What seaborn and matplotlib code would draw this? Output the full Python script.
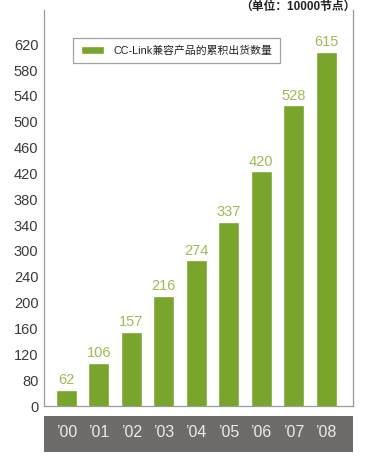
import matplotlib
matplotlib.use("Agg")
import matplotlib.pyplot as plt
import seaborn as sns
import numpy as np
import pandas as pd
from matplotlib.patches import Rectangle

years = ["’00", "’01", "’02", "’03", "’04", "’05", "’06", "’07", "’08"]
values = [62, 106, 157, 216, 274, 337, 420, 528, 615]
ytick_labels = ["0", "80", "120", "160", "200", "240", "300", "340", "380",
                "420", "460", "500", "540", "580", "620"]
series_name = "CC-Link兼容产品的累积出货数量"
unit_text = "（单位：10000节点）"

sns.set_theme(style="white")
plt.rcParams['font.family'] = ['Liberation Sans', 'Noto Sans CJK SC', 'DejaVu Sans']

bar_color = "#79a52c"
label_color = "#9dbb55"
band_color = "#6f6b68"

fig = plt.figure(figsize=(3.68, 4.59), dpi=100)
W, H = 368, 459
ax = fig.add_axes([44 / W, 1 - 406 / H, (353 - 44) / W, (406 - 10) / H])

df = pd.DataFrame({"year": years, "value": values})
sns.barplot(data=df, x="year", y="value", color=bar_color, saturation=1,
            width=0.65, ax=ax, label=series_name)

ymin, ymax = 35.8, 684
ax.set_ylim(ymin, ymax)
ax.set_xlim(-0.69, 8.83)
step = 42.3
ax.set_yticks([ymin + step * i for i in range(len(ytick_labels))])
ax.set_yticklabels(ytick_labels)
ax.tick_params(axis="y", length=0, pad=4, labelsize=10.5, labelcolor="#3a3a3a")
ax.tick_params(axis="x", length=0, pad=14, labelsize=11.5, labelcolor="#ececec")
ax.set_xlabel("")
ax.set_ylabel("")

for s in ["left", "right", "bottom"]:
    ax.spines[s].set_visible(True)
    ax.spines[s].set_color("#9a9a9a")
    ax.spines[s].set_linewidth(0.9)
ax.spines["top"].set_visible(False)

ax.bar_label(ax.containers[0], labels=[str(v) for v in values], padding=2,
             color=label_color, fontsize=10.5)

# grey band behind the year labels
band = Rectangle((44 / W, 1 - 452 / H), (353 - 44) / W, (452 - 416) / H,
                 transform=fig.transFigure, facecolor=band_color,
                 edgecolor="none", zorder=0.5, clip_on=False)
ax.add_patch(band)

leg = ax.legend(loc="upper left", bbox_to_anchor=(73 / W, 1 - 38 / H),
                bbox_transform=fig.transFigure, fancybox=False, frameon=True,
                edgecolor="#8a8a8a", fontsize=7.8, handlelength=2.2,
                handleheight=0.8, borderpad=0.7, borderaxespad=0)
leg.get_frame().set_linewidth(0.9)
for t in leg.get_texts():
    t.set_color("#222222")

fig.text(356 / W, 1 - 1 / H, unit_text, ha="right", va="top",
         fontsize=8.5, fontweight="bold", color="#222222")

fig.savefig("out.png", dpi=100)
